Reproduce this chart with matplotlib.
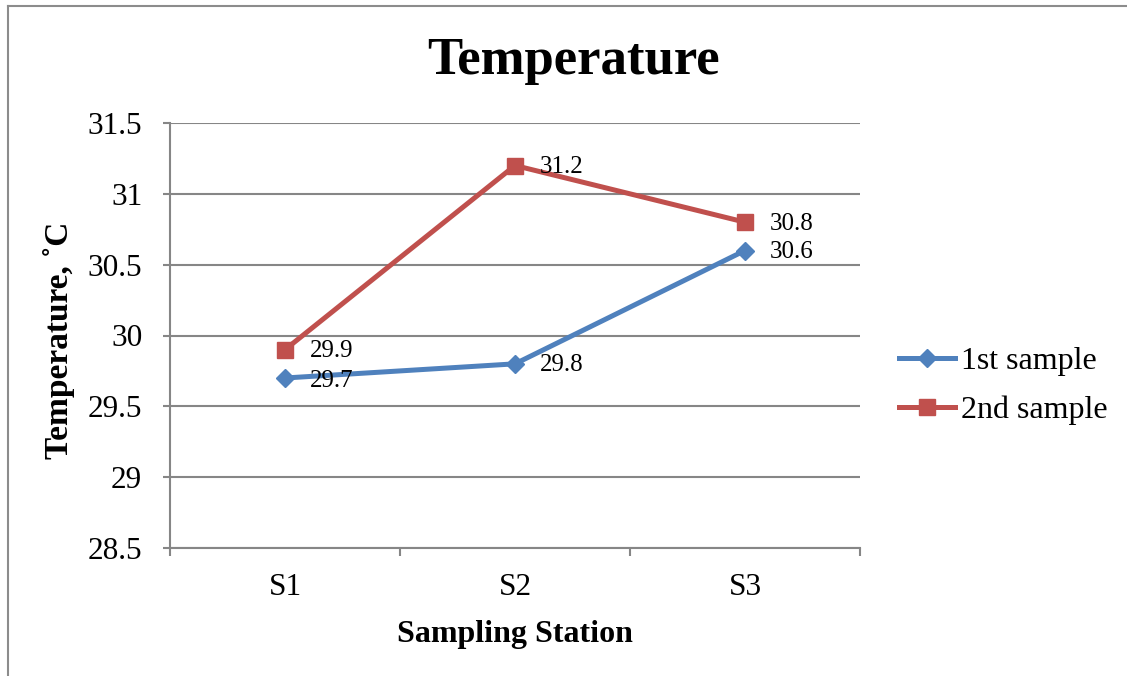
import matplotlib
matplotlib.use("Agg")
import matplotlib.pyplot as plt
from matplotlib.lines import Line2D

stations = ["S1", "S2", "S3"]
first_sample = [29.7, 29.8, 30.6]
second_sample = [29.9, 31.2, 30.8]
series_names = ["1st sample", "2nd sample"]
y_ticks = [28.5, 29, 29.5, 30, 30.5, 31, 31.5]
y_tick_labels = ["28.5", "29", "29.5", "30", "30.5", "31", "31.5"]

plt.rcParams['font.family'] = ['Liberation Serif', 'DejaVu Serif']

fig = plt.figure(figsize=(11.27, 6.76), dpi=100)
ax = fig.add_axes([170/1127, 1-548/676, 690/1127, 425/676])

blue = "#4F81BD"
red = "#C0504D"
grid = "#868686"

x = list(range(len(stations)))
ax.plot(x, first_sample, color=blue, lw=3.6, marker="D", ms=9, label=series_names[0], zorder=3)
ax.plot(x, second_sample, color=red, lw=3.6, marker="s", ms=11, label=series_names[1], zorder=3)

for xi, v in zip(x, first_sample):
    dy = -2.5 if xi == 0 else -1
    ax.annotate(f"{v}", (xi, v), xytext=(18, dy), textcoords="offset points",
                va="center", ha="left", fontsize=18)
for xi, v in zip(x, second_sample):
    ax.annotate(f"{v}", (xi, v), xytext=(18, -1), textcoords="offset points",
                va="center", ha="left", fontsize=18)

ax.set_xlim(-0.5, 2.5)
ax.set_ylim(28.5, 31.5)
ax.set_yticks(y_ticks)
ax.set_yticklabels(y_tick_labels, fontsize=22.5)
ax.set_xticks(x)
ax.set_xticklabels(stations, fontsize=22.5)
ax.set_xticks([-0.5, 0.5, 1.5, 2.5], minor=True)
ax.tick_params(axis="x", which="major", length=0, pad=18)
ax.tick_params(axis="x", which="minor", length=6, width=1.5, color=grid, direction="out")
ax.tick_params(axis="y", length=5, width=1.5, color=grid, direction="out", pad=15)

ax.grid(axis="y", color=grid, lw=1.5)
ax.set_axisbelow(True)
for s in ["top", "right"]:
    ax.spines[s].set_visible(False)
for s in ["left", "bottom"]:
    ax.spines[s].set_color(grid)
    ax.spines[s].set_linewidth(1.5)

ax.set_xlabel("Sampling Station", fontsize=23, fontweight="bold")
ax.xaxis.set_label_coords(0.5, (548-620)/425)
ax.set_ylabel("Temperature, \u02daC", fontsize=24, fontweight="bold")
ax.yaxis.set_label_coords((75-170)/690, (548-340)/425)
fig.text(573/1127, 1-61/676, "Temperature", fontsize=38, fontweight="bold",
         ha="center", va="center")

fig.legend(loc="center left", bbox_to_anchor=(899/1127, 1-386/676), frameon=False,
           fontsize=23, handlelength=1.75, handletextpad=0.2, labelspacing=0.62,
           borderpad=0, borderaxespad=0)

fig.add_artist(Line2D([8/1127, 8/1127], [0, 1-6/676], transform=fig.transFigure,
                      color="#8C8C8C", lw=1.5))
fig.add_artist(Line2D([8/1127, 1], [1-6/676, 1-6/676], transform=fig.transFigure,
                      color="#8C8C8C", lw=1.5))

fig.savefig("out.png", dpi=100)
